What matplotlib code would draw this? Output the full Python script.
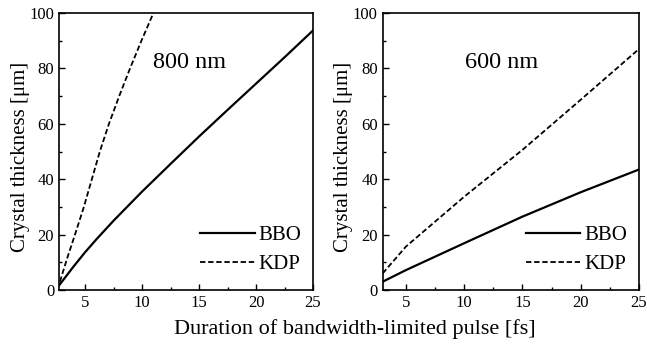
import matplotlib
matplotlib.use("Agg")
import matplotlib.pyplot as plt
from matplotlib.ticker import MultipleLocator

plt.rcParams['font.family'] = ['Liberation Serif', 'DejaVu Serif']

# 800 nm panel
x800_bbo = [2.75, 4, 5, 6, 7.5, 10, 12.5, 15, 17.5, 20, 22.5, 25]
y800_bbo = [1.8, 8.5, 13.6, 18.3, 25.0, 35.5, 45.5, 55.4, 65.0, 74.5, 84.0, 93.7]
x800_kdp = [2.8, 3.4, 4.2, 4.9, 5.6, 6.3, 7.1, 8.0, 8.95, 9.95, 11.0]
y800_kdp = [3.0, 11.0, 21.0, 30.0, 40.0, 50.0, 60.0, 70.0, 80.0, 90.0, 100.0]

# 600 nm panel
x600_bbo = [3, 5, 10, 15, 20, 25]
y600_bbo = [3.0, 7.2, 16.9, 26.5, 35.3, 43.5]
x600_kdp = [3, 5, 10, 15, 20, 25]
y600_kdp = [6.0, 15.7, 33.7, 50.6, 68.7, 87.0]

xticks = [5, 10, 15, 20, 25]
yticks = [0, 20, 40, 60, 80, 100]

fig = plt.figure(figsize=(6.47, 3.45), dpi=100)
ax1 = fig.add_axes([0.0912, 0.1594, 0.3926, 0.8029])
ax2 = fig.add_axes([0.5915, 0.1594, 0.3961, 0.8029])

panels = [
    (ax1, x800_bbo, y800_bbo, x800_kdp, y800_kdp, "800 nm", (2.72, 25), (0.372, 0.82)),
    (ax2, x600_bbo, y600_bbo, x600_kdp, y600_kdp, "600 nm", (3, 25), (0.32, 0.82)),
]
for ax, xb, yb, xk, yk, label, xlim, tpos in panels:
    ax.plot(xb, yb, '-', color='black', lw=1.6, label='BBO')
    ax.plot(xk, yk, '--', color='black', lw=1.3, dashes=(3, 1.5), label='KDP')
    ax.set_xlim(*xlim)
    ax.set_ylim(0, 100)
    ax.set_xticks(xticks)
    ax.set_yticks(yticks)
    ax.xaxis.set_minor_locator(MultipleLocator(2.5))
    ax.yaxis.set_minor_locator(MultipleLocator(10))
    ax.tick_params(which='both', direction='in', top=False, right=False, labelsize=12)
    ax.tick_params(which='major', length=4, width=1)
    ax.tick_params(which='minor', length=2.5, width=1)
    for s in ax.spines.values():
        s.set_linewidth(1.2)
    ax.set_ylabel('Crystal thickness [μm]', fontsize=15, labelpad=1)
    ax.yaxis.set_label_coords(-0.115, 0.48)
    ax.text(tpos[0], tpos[1], label, transform=ax.transAxes, fontsize=17.5, ha='left', va='center')
    ax.legend(loc='center right', bbox_to_anchor=(0.955, 0.145), frameon=False, fontsize=15,
              handlelength=2.6, handletextpad=0.2, borderaxespad=0, borderpad=0, labelspacing=0.42)

fig.text(0.548, 0.045, 'Duration of bandwidth-limited pulse [fs]', ha='center', va='center', fontsize=16)
fig.savefig('out.png', dpi=100)
